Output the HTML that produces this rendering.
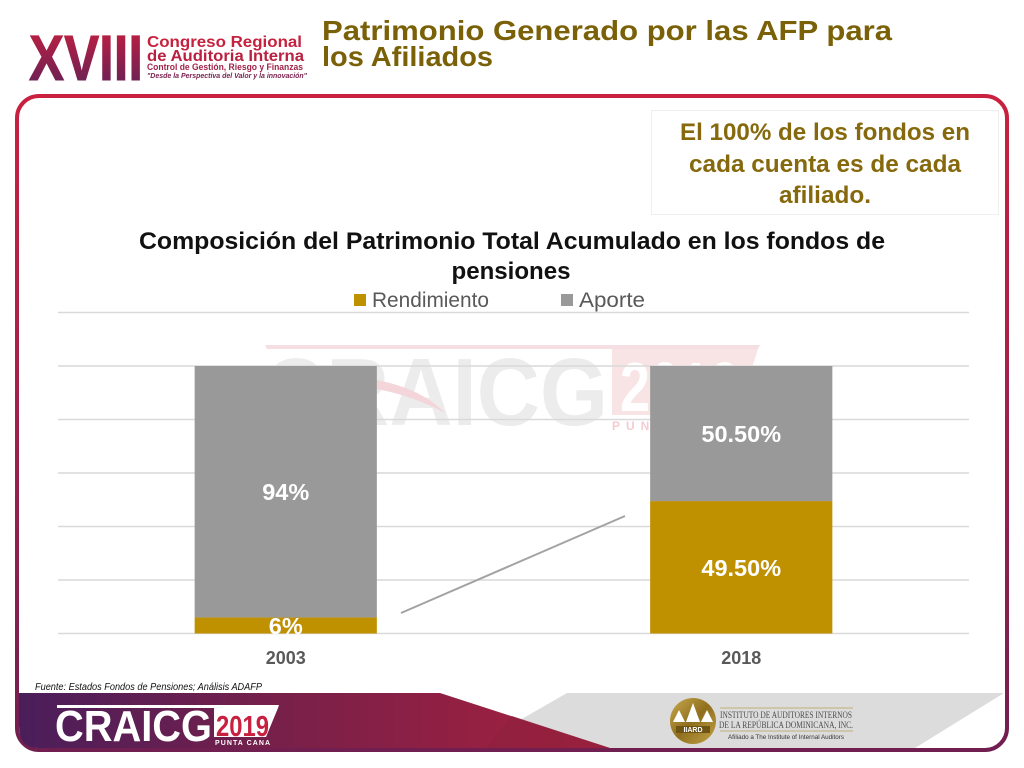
<!DOCTYPE html>
<html lang="es">
<head>
<meta charset="utf-8">
<title>Patrimonio Generado por las AFP para los Afiliados</title>
<style>
html,body{margin:0;padding:0;background:#fff;}
body{width:1024px;height:768px;overflow:hidden;}
svg{display:block;font-family:"Liberation Sans",sans-serif;}
</style>
</head>
<body>
<svg id="slide" xmlns="http://www.w3.org/2000/svg" width="1024" height="768" viewBox="0 0 1024 768">
<defs>
<linearGradient id="frameGrad" x1="0" y1="0" x2="0" y2="1">
<stop offset="0" stop-color="#c9213f"/><stop offset="0.45" stop-color="#a3214a"/><stop offset="1" stop-color="#701f50"/>
</linearGradient>
<linearGradient id="bandGrad" x1="0" y1="0" x2="1" y2="0">
<stop offset="0" stop-color="#4a1e5a"/><stop offset="0.5" stop-color="#7d2048"/><stop offset="1" stop-color="#a8213d"/>
</linearGradient>
<linearGradient id="xviiiGrad" x1="0" y1="0" x2="0" y2="1">
<stop offset="0" stop-color="#c9203f"/><stop offset="1" stop-color="#5c2158"/>
</linearGradient>
<linearGradient id="goldGrad" x1="0" y1="0" x2="1" y2="1">
<stop offset="0" stop-color="#c9a94e"/><stop offset="0.5" stop-color="#8f6f1c"/><stop offset="1" stop-color="#c4a447"/>
</linearGradient>
</defs>

<g>
<text x="29" y="80" font-size="64" font-weight="700" fill="url(#xviiiGrad)" stroke="url(#xviiiGrad)" stroke-width="1" textLength="114" lengthAdjust="spacingAndGlyphs">XVIII</text>
<text x="147" y="47" font-size="16" font-weight="700" fill="#c6213f" textLength="155" lengthAdjust="spacingAndGlyphs">Congreso Regional</text>
<text x="147" y="61" font-size="16" font-weight="700" fill="#b8213f" textLength="157" lengthAdjust="spacingAndGlyphs">de Auditoria Interna</text>
<text x="147" y="70" font-size="9.5" font-weight="700" fill="#a0234a" textLength="156" lengthAdjust="spacingAndGlyphs">Control de Gestión, Riesgo y Finanzas</text>
<text x="147" y="78" font-size="7" font-style="italic" font-weight="700" fill="#7a2250" textLength="160" lengthAdjust="spacingAndGlyphs">"Desde la Perspectiva del Valor y la innovación"</text>
</g>

<g font-weight="700" fill="#7a6108" font-size="28">
<text x="322" y="40" textLength="570" lengthAdjust="spacingAndGlyphs">Patrimonio Generado por las AFP para</text>
<text x="322" y="66" textLength="171" lengthAdjust="spacingAndGlyphs">los Afiliados</text>
</g>

<rect x="17" y="96" width="990" height="654" rx="22" ry="22" fill="#fff" stroke="url(#frameGrad)" stroke-width="4"/>

<g>
<polygon points="265,345 760,345 758,349 267,349" fill="#f6dfe2"/>
<polygon points="612,349 758,349 737,415 612,415" fill="#f8e3e5"/>
<text x="263" y="425" font-size="96" font-weight="700" fill="#ececec" textLength="345" lengthAdjust="spacingAndGlyphs">CRAICG</text>
<text x="620" y="411" font-size="70" font-weight="700" fill="#fff" textLength="120" lengthAdjust="spacingAndGlyphs">2019</text>
<text x="612" y="430" font-size="12" font-weight="700" fill="#f3ccd2" letter-spacing="6">PUNTA</text>
<path d="M376,380 C405,385 430,397 445,413 C425,402 400,393 376,389 Z" fill="#f3d5da"/>
</g>

<g>
<rect x="651.5" y="110.5" width="347" height="104" fill="#fff" fill-opacity="0.9" stroke="#efefef" stroke-width="1"/>
<g font-size="24.5" font-weight="700" fill="#86690c" text-anchor="middle">
<text x="825" y="140" textLength="290" lengthAdjust="spacingAndGlyphs">El 100% de los fondos en</text>
<text x="825" y="172" textLength="272" lengthAdjust="spacingAndGlyphs">cada cuenta es de cada</text>
<text x="825" y="203" textLength="92" lengthAdjust="spacingAndGlyphs">afiliado.</text>
</g>
</g>

<g font-size="24" font-weight="700" fill="#111" text-anchor="middle">
<text x="512" y="249" textLength="746" lengthAdjust="spacingAndGlyphs">Composición del Patrimonio Total Acumulado en los fondos de</text>
<text x="511" y="279" textLength="119" lengthAdjust="spacingAndGlyphs">pensiones</text>
</g>

<g font-size="21" fill="#595959">
<g>
<rect x="354" y="294" width="12" height="12" fill="#bf9000"/>
<text x="372" y="307" textLength="117" lengthAdjust="spacingAndGlyphs">Rendimiento</text>
</g>
<g>
<rect x="561" y="294" width="12" height="12" fill="#999999"/>
<text x="579" y="307" textLength="66" lengthAdjust="spacingAndGlyphs">Aporte</text>
</g>
</g>

<g id="chart"></g>

<line x1="401" y1="613" x2="625" y2="516" stroke="#a3a3a3" stroke-width="2"/>

<text x="35" y="690" font-size="10" font-style="italic" font-weight="400" fill="#111" textLength="227" lengthAdjust="spacingAndGlyphs">Fuente: Estados Fondos de Pensiones; Análisis ADAFP</text>

<g>
<polygon points="567,693 1004,693 915,748 610,748 520,720" fill="#dcdcdc"/>
<path d="M19,693 L440,693 L610,748 L38,748 Q19,748 19,726 Z" fill="url(#bandGrad)"/>
<polygon points="512,716 610,748 486,748" fill="#8e1f3e" opacity="0.6"/>
<path d="M38,749.5 L985,749.5" stroke="#701f50" stroke-width="3" fill="none"/>

<g>
<polygon points="57,705 279,705 278,708 57,708" fill="#fff"/>
<polygon points="214,708 278,708 266,737 214,737" fill="#fff"/>
<text x="55" y="741" font-size="44" font-weight="700" fill="#fff" textLength="157" lengthAdjust="spacingAndGlyphs">CRAICG</text>
<text x="216" y="736" font-size="29" font-weight="700" fill="#c8203f" textLength="53" lengthAdjust="spacingAndGlyphs">2019</text>
<text x="215" y="745" font-size="7" font-weight="700" fill="#fff" textLength="55" lengthAdjust="spacing">PUNTA CANA</text>
</g>

<g>
<circle cx="693" cy="721" r="23" fill="url(#goldGrad)"/>
<polygon points="693,703 700,722 686,722" fill="#fff"/>
<polygon points="679,710 685,722 673,722" fill="#fff"/>
<polygon points="707,710 713,722 701,722" fill="#fff"/>
<rect x="676" y="726" width="34" height="7" fill="#6e5514"/>
<text x="693" y="732" font-size="7" font-weight="700" fill="#fff" text-anchor="middle">IIARD</text>
<line x1="720" y1="708" x2="853" y2="708" stroke="#b8a25e" stroke-width="0.7"/>
<text x="720" y="718" font-family="Liberation Serif,serif" font-size="9" fill="#4d4d4d" textLength="132" lengthAdjust="spacingAndGlyphs">INSTITUTO DE AUDITORES INTERNOS</text>
<text x="719" y="728" font-family="Liberation Serif,serif" font-size="9" fill="#4d4d4d" textLength="134" lengthAdjust="spacingAndGlyphs">DE LA REPÚBLICA DOMINICANA, INC.</text>
<line x1="720" y1="731" x2="853" y2="731" stroke="#b8a25e" stroke-width="0.7"/>
<text x="728" y="739" font-size="6.5" fill="#333" textLength="116" lengthAdjust="spacingAndGlyphs">Afiliado a The Institute of Internal Auditors</text>
</g>
</g>
</svg>

<script>
const categories = ["2003", "2018"];
const rendimientoValues = [6, 49.5];
const aporteValues = [94, 50.5];
const rendimientoLabels = ["6%", "49.50%"];
const aporteLabels = ["94%", "50.50%"];
const gridTicks = [0, 20, 40, 60, 80, 100, 120];

const SVG_NS = "http://www.w3.org/2000/svg";
const chart = document.getElementById("chart");
const plot = { left: 58, right: 969, bottom: 633.5, top: 312.5, max: 120 };
const barFraction = 0.4;

function xBand(index) {
  return (plot.right - plot.left) / categories.length * index + plot.left;
}
function bandWidth() {
  return (plot.right - plot.left) / categories.length;
}
function yScale(value) {
  return plot.bottom - (value / plot.max) * (plot.bottom - plot.top);
}
function make(tag, attrs) {
  const el = document.createElementNS(SVG_NS, tag);
  Object.keys(attrs).forEach(function (key) { el.setAttribute(key, attrs[key]); });
  chart.appendChild(el);
  return el;
}

gridTicks.forEach(function (tick) {
  const line = make("line", { x1: plot.left, x2: plot.right, y1: yScale(tick), y2: yScale(tick), stroke: "#d9d9d9", "stroke-width": 1.5 });
  
  
});

function drawSegment(index, start, value, color, label) {
  const width = bandWidth() * barFraction;
  const x = xBand(index) + (bandWidth() - width) / 2;
  const top = yScale(start + value);
  const bottom = yScale(start);
  const bar = make("rect", { x: x, y: top, width: width, height: bottom - top, fill: color });
  
  
  const text = make("text", { x: x + width / 2, y: (top + bottom) / 2 + 8.5, "text-anchor": "middle", "font-size": 23.5, "font-weight": 700, fill: "#ffffff" });
  text.textContent = label;
  
  
}

categories.forEach(function (category, i) {
  drawSegment(i, 0, rendimientoValues[i], "#bf9000", rendimientoLabels[i]);
  drawSegment(i, rendimientoValues[i], aporteValues[i], "#999999", aporteLabels[i]);
  const tickLabel = make("text", { x: xBand(i) + bandWidth() / 2, y: 664, "text-anchor": "middle", "font-size": 18, "font-weight": 700, fill: "#595959" });
  tickLabel.textContent = category;
  
  
});
</script>
</body>
</html>
